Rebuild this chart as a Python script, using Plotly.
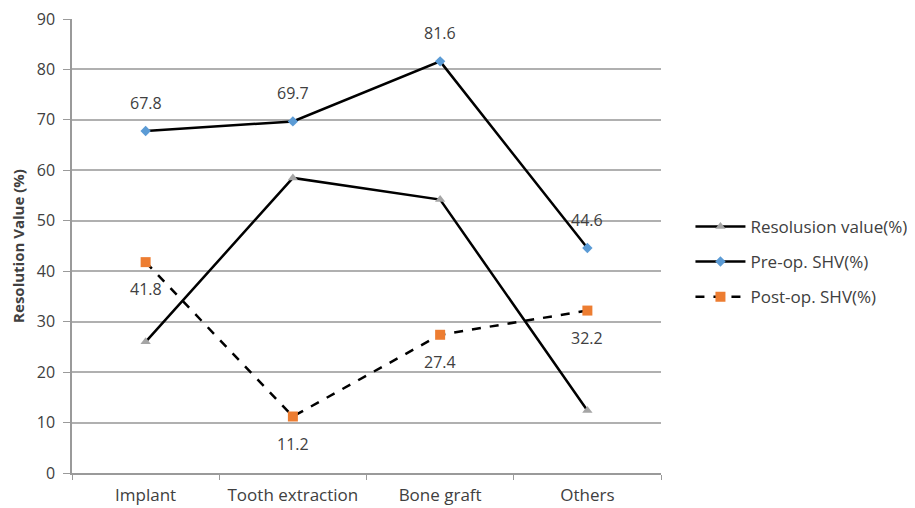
import plotly.graph_objects as go

categories = ["Implant", "Tooth extraction", "Bone graft", "Others"]
resolution = [26.0, 58.5, 54.2, 12.4]
pre_op = [67.8, 69.7, 81.6, 44.6]
post_op = [41.8, 11.2, 27.4, 32.2]
y_ticks = [0, 10, 20, 30, 40, 50, 60, 70, 80, 90]

FONT = "Open Sans"
TXT = "#404040"

fig = go.Figure()
fig.add_trace(go.Scatter(
    x=categories, y=resolution, name="Resolusion value(%)", mode="lines+markers",
    line=dict(color="black", width=2.5),
    marker=dict(symbol="triangle-up", size=9, color="#A5A5A5"),
    legendgroup="a"))
fig.add_trace(go.Scatter(
    x=categories, y=pre_op, name="Pre-op. SHV(%)", mode="lines+markers",
    line=dict(color="black", width=2.5),
    marker=dict(symbol="diamond", size=8, color="#5B9BD5"),
    legendgroup="b"))
fig.add_trace(go.Scatter(
    x=categories, y=post_op, name="Post-op. SHV(%)", mode="lines+markers",
    line=dict(color="black", width=2.5, dash="dash"),
    marker=dict(symbol="square", size=10, color="#ED7D31"),
    legendgroup="c"))

for c, v in zip(categories, pre_op):
    fig.add_annotation(x=c, y=v, text=f"{v}", showarrow=False, yshift=28,
                       font=dict(family=FONT, size=16, color=TXT))
for c, v in zip(categories, post_op):
    fig.add_annotation(x=c, y=v, text=f"{v}", showarrow=False, yshift=-27,
                       font=dict(family=FONT, size=16, color=TXT))

fig.update_layout(
    width=915, height=508,
    margin=dict(l=64, r=260, t=11, b=43),
    paper_bgcolor="white", plot_bgcolor="white",
    font=dict(family=FONT, size=16, color=TXT),
    legend=dict(x=1.05, y=0.465, xanchor="left", yanchor="middle",
                font=dict(family=FONT, size=17, color=TXT), itemwidth=50,
                tracegroupgap=10, bgcolor="rgba(0,0,0,0)"),
    showlegend=True,
)
fig.update_xaxes(
    type="category", range=[-0.5, 3.5], showgrid=False,
    showline=True, linecolor="#9a9a9a", linewidth=1.5,
    ticks="outside", tickson="boundaries", ticklen=5, tickcolor="#9a9a9a",
    ticklabelstandoff=6, automargin=False, ticklabeloverflow="allow",
    tickfont=dict(family=FONT, size=17, color=TXT), zeroline=False)
fig.update_yaxes(
    range=[0, 90], tickvals=y_ticks, showgrid=True, gridcolor="#b0b0b0", gridwidth=1.5,
    showline=True, linecolor="#9a9a9a", linewidth=1.5,
    ticks="outside", ticklen=7, tickcolor="#9a9a9a", ticklabelstandoff=5,
    ticklabeloverflow="allow",
    tickfont=dict(family=FONT, size=16, color=TXT), zeroline=False, automargin=False,
    title=dict(text="<b>Resolution Value (%)</b>", font=dict(family=FONT, size=15, color=TXT), standoff=14))

fig.write_html("out.html")
